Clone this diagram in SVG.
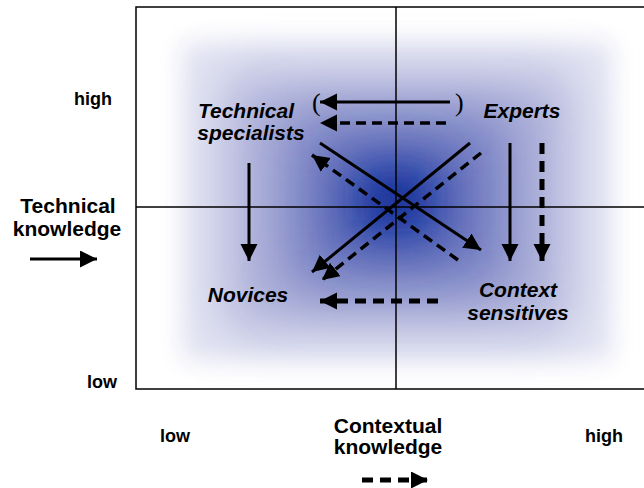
<svg xmlns="http://www.w3.org/2000/svg" width="644" height="488" viewBox="0 0 644 488">
<style>
.ax{font-family:"Liberation Sans",Arial,sans-serif;font-weight:bold;font-size:18px;fill:#000}
.tt{font-family:"Liberation Sans",Arial,sans-serif;font-weight:bold;font-size:21px;fill:#000;text-anchor:middle}
.lb{font-family:"Liberation Sans",Arial,sans-serif;font-weight:bold;font-style:italic;font-size:21px;fill:#000;text-anchor:middle}
.par{font-family:"Liberation Serif","Times New Roman",serif;font-size:26px;fill:#000}
.s{stroke:#000;stroke-width:3;fill:none}
.d{stroke:#000;stroke-width:3.5;fill:none;stroke-dasharray:10 6}
.dt{stroke:#000;stroke-width:5;fill:none;stroke-dasharray:11 7}
.g{stroke:#000;stroke-width:1.5;fill:none}
</style>
<defs>
<filter id="b1" x="-0.3" y="-0.3" width="1.6" height="1.6"><feGaussianBlur stdDeviation="12"/></filter>
<filter id="b2" x="-0.5" y="-0.5" width="2" height="2"><feGaussianBlur stdDeviation="25"/></filter>
<filter id="b3" x="-0.8" y="-0.8" width="2.6" height="2.6"><feGaussianBlur stdDeviation="28"/></filter>
<filter id="b4" x="-1" y="-1" width="3" height="3"><feGaussianBlur stdDeviation="16"/></filter>
<marker id="ah" markerUnits="userSpaceOnUse" markerWidth="18" markerHeight="18" refX="17" refY="8.5" orient="auto"><path d="M0,0 L17,8.5 L0,17 z" fill="#000"/></marker>
</defs>
<rect x="136" y="7" width="520" height="382" fill="#fff" stroke="#000" stroke-width="1.5"/>
<g id="shading">
<rect x="182" y="42" width="430" height="318" fill="#e2e3f2" filter="url(#b1)"/>
<rect x="225" y="75" width="345" height="255" fill="#b0b4da" filter="url(#b2)"/>
<rect x="285" y="115" width="225" height="175" fill="#7880c2" filter="url(#b3)"/>
<rect x="340" y="155" width="110" height="95" fill="#2a45a8" filter="url(#b3)"/>
<rect x="370" y="180" width="50" height="40" fill="#12309a" filter="url(#b4)"/>
</g>
<line class="g" x1="396" y1="7" x2="396" y2="389"/>
<line class="g" x1="136" y1="207" x2="644" y2="207"/>
<g id="nodes">
<g id="tech-spec"><text class="lb" x="246" y="118">Technical</text><text class="lb" x="251" y="140">specialists</text></g>
<g id="experts"><text class="lb" x="522" y="118">Experts</text></g>
<g id="novices"><text class="lb" x="248" y="302">Novices</text></g>
<g id="context"><text class="lb" x="518" y="297">Context</text><text class="lb" x="518" y="320">sensitives</text></g>
</g>
<g id="axes-labels">
<text class="ax" x="74" y="105">high</text>
<text class="ax" x="87" y="388">low</text>
<text class="ax" x="160" y="442">low</text>
<text class="ax" x="585" y="442">high</text>
<text class="tt" x="68" y="213">Technical</text>
<text class="tt" x="67" y="236">knowledge</text>
<text class="tt" x="388" y="433">Contextual</text>
<text class="tt" x="388" y="454">knowledge</text>
<text class="par" x="312" y="111">(</text>
<text class="par" x="455" y="111">)</text>
</g>
<g id="connectors">
<line class="s" x1="30" y1="259" x2="97" y2="259" marker-end="url(#ah)"/>
<line class="dt" x1="362" y1="480" x2="428" y2="480" marker-end="url(#ah)"/>
<line class="s" x1="450" y1="102" x2="320" y2="102" marker-end="url(#ah)"/>
<line class="d" x1="446" y1="123" x2="320" y2="123" marker-end="url(#ah)"/>
<line class="s" x1="249" y1="163" x2="249" y2="261" marker-end="url(#ah)"/>
<line class="s" x1="510" y1="143" x2="510" y2="261" marker-end="url(#ah)"/>
<line class="dt" x1="542" y1="143" x2="542" y2="261" marker-end="url(#ah)"/>
<line class="s" x1="320" y1="143" x2="481" y2="250" marker-end="url(#ah)"/>
<line class="s" x1="470" y1="143" x2="312" y2="272" marker-end="url(#ah)"/>
<line class="d" x1="458" y1="260" x2="312" y2="155" marker-end="url(#ah)"/>
<line class="d" x1="481" y1="153" x2="322" y2="280" marker-end="url(#ah)"/>
<line class="dt" x1="438" y1="301" x2="320" y2="301" marker-end="url(#ah)"/>
</g>
</svg>
